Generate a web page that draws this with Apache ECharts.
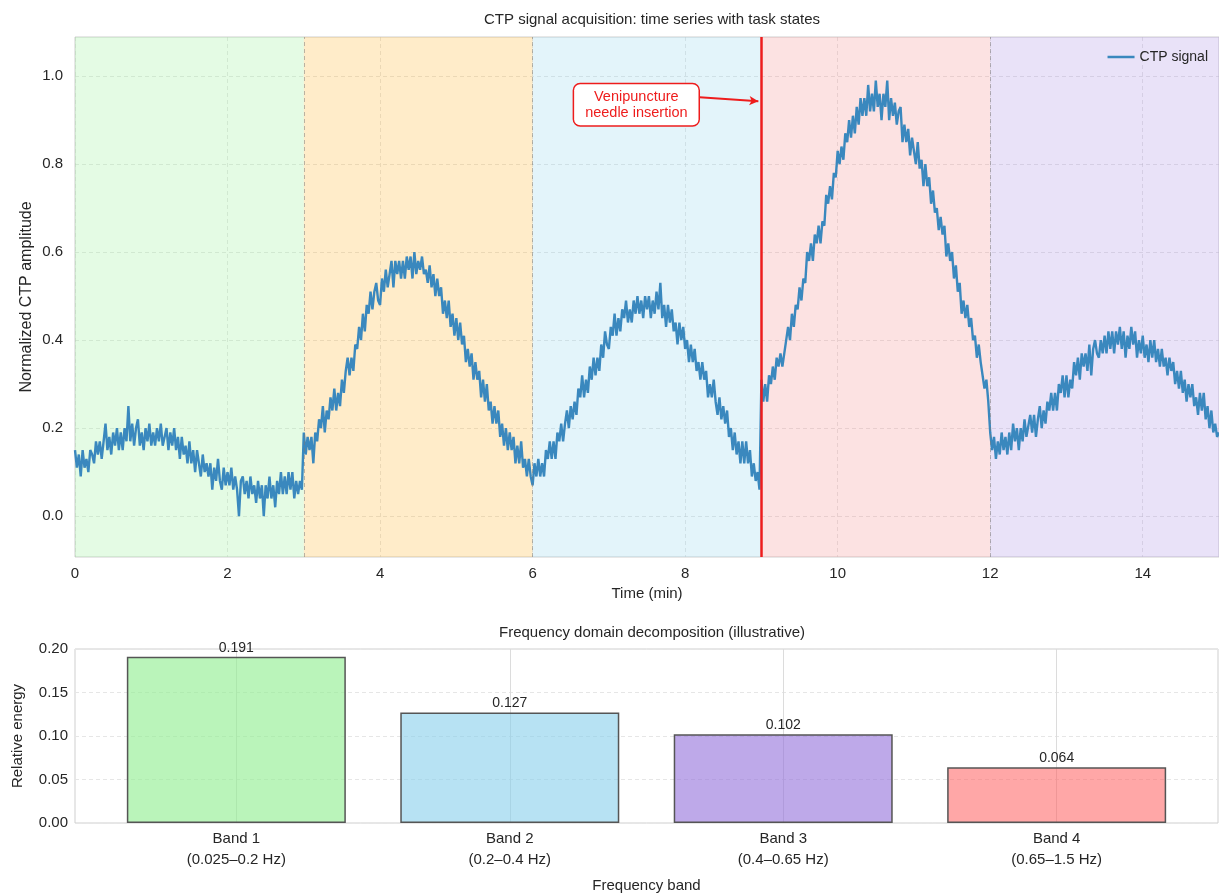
<!DOCTYPE html>
<html>
<head>
<meta charset="utf-8">
<script src="https://cdn.jsdelivr.net/npm/echarts@6/dist/echarts.min.js"></script>
<style>
html,body{margin:0;padding:0;background:#fff;}
#chart{width:1219px;height:896px;}
</style>
</head>
<body>
<div id="chart"></div>
<script>
// ---------------- DATA ----------------
const TIME_STEP_MIN = 0.025; // sampling step of the signal (min)
// CTP signal, one array per task state (0-3, 3-6, 6-9, 9-12, 12-15 min)
const sigState1 = [
  0.15,0.11,0.14,0.09,0.15,0.11,0.13,0.10,0.15,0.14,
  0.12,0.17,0.14,0.17,0.13,0.17,0.21,0.15,0.18,0.14,
  0.19,0.16,0.20,0.15,0.19,0.15,0.20,0.17,0.25,0.17,
  0.21,0.16,0.20,0.22,0.16,0.19,0.15,0.20,0.17,0.21,
  0.16,0.19,0.16,0.20,0.17,0.21,0.16,0.18,0.20,0.15,
  0.19,0.16,0.20,0.15,0.18,0.13,0.18,0.14,0.16,0.12,
  0.17,0.12,0.15,0.10,0.15,0.12,0.09,0.14,0.10,0.12,
  0.09,0.12,0.06,0.11,0.08,0.13,0.08,0.06,0.11,0.07,
  0.10,0.07,0.11,0.06,0.09,0.06,0.00,0.08,0.09,0.05,
  0.08,0.04,0.09,0.05,0.07,0.03,0.08,0.04,0.07,0.00,
  0.07,0.04,0.09,0.04,0.07,0.02,0.08,0.05,0.10,0.05,
  0.09,0.05,0.10,0.06,0.10,0.04,0.08,0.05,0.08,0.06];
const sigState2 = [
  0.19,0.14,0.18,0.15,0.18,0.12,0.19,0.17,0.22,0.20,
  0.25,0.19,0.24,0.22,0.27,0.24,0.29,0.24,0.28,0.25,
  0.31,0.28,0.33,0.36,0.32,0.36,0.33,0.39,0.38,0.43,
  0.40,0.46,0.42,0.48,0.46,0.51,0.47,0.51,0.53,0.49,
  0.48,0.54,0.51,0.56,0.52,0.55,0.58,0.52,0.58,0.55,
  0.58,0.54,0.58,0.54,0.59,0.56,0.59,0.54,0.60,0.55,
  0.58,0.56,0.59,0.55,0.56,0.53,0.57,0.52,0.55,0.50,
  0.54,0.50,0.52,0.46,0.49,0.45,0.49,0.43,0.46,0.41,
  0.45,0.40,0.44,0.39,0.41,0.35,0.38,0.34,0.37,0.31,
  0.35,0.31,0.33,0.27,0.31,0.26,0.30,0.24,0.26,0.21,
  0.25,0.21,0.24,0.18,0.21,0.16,0.20,0.15,0.19,0.15,
  0.18,0.12,0.16,0.12,0.17,0.11,0.13,0.09,0.13,0.09];
const sigState3 = [
  0.07,0.12,0.09,0.13,0.09,0.12,0.09,0.15,0.13,0.17,
  0.13,0.17,0.13,0.19,0.17,0.21,0.17,0.21,0.24,0.20,
  0.25,0.22,0.26,0.23,0.29,0.27,0.32,0.27,0.31,0.28,
  0.34,0.31,0.36,0.32,0.36,0.33,0.39,0.36,0.42,0.39,
  0.38,0.43,0.41,0.46,0.41,0.45,0.42,0.47,0.45,0.49,
  0.44,0.47,0.44,0.49,0.46,0.50,0.46,0.49,0.45,0.50,
  0.47,0.50,0.45,0.49,0.46,0.51,0.47,0.53,0.45,0.48,
  0.43,0.48,0.44,0.47,0.42,0.44,0.39,0.44,0.40,0.43,
  0.38,0.40,0.35,0.39,0.35,0.38,0.33,0.35,0.31,0.35,
  0.31,0.33,0.27,0.30,0.27,0.31,0.26,0.23,0.27,0.22,
  0.25,0.21,0.24,0.18,0.20,0.15,0.19,0.14,0.17,0.12,
  0.17,0.12,0.17,0.12,0.15,0.09,0.12,0.08,0.10,0.06];
const sigState4 = [
  0.31,0.26,0.30,0.26,0.32,0.30,0.34,0.31,0.36,0.34,
  0.37,0.34,0.37,0.37,0.43,0.40,0.46,0.43,0.48,0.47,
  0.52,0.49,0.54,0.53,0.60,0.58,0.62,0.58,0.64,0.62,
  0.66,0.62,0.67,0.66,0.73,0.71,0.75,0.72,0.78,0.77,
  0.83,0.80,0.84,0.81,0.87,0.85,0.90,0.86,0.91,0.87,
  0.93,0.89,0.95,0.91,0.95,0.91,0.98,0.92,0.96,0.92,
  0.99,0.93,0.96,0.90,0.96,0.93,0.99,0.90,0.95,0.91,
  0.94,0.89,0.92,0.93,0.85,0.89,0.85,0.88,0.82,0.86,
  0.86,0.80,0.85,0.79,0.81,0.75,0.80,0.75,0.77,0.71,
  0.74,0.69,0.70,0.65,0.68,0.64,0.66,0.59,0.62,0.58,
  0.60,0.54,0.57,0.51,0.53,0.46,0.49,0.45,0.48,0.43,
  0.45,0.40,0.41,0.36,0.39,0.35,0.35,0.29,0.31,0.26];
const sigState5 = [
  0.19,0.15,0.18,0.13,0.17,0.14,0.19,0.15,0.18,0.14,
  0.19,0.15,0.21,0.17,0.20,0.15,0.20,0.17,0.22,0.18,
  0.18,0.23,0.19,0.23,0.18,0.22,0.25,0.20,0.24,0.21,
  0.26,0.24,0.28,0.24,0.28,0.24,0.30,0.28,0.32,0.27,
  0.32,0.27,0.31,0.29,0.35,0.32,0.36,0.31,0.37,0.34,
  0.37,0.33,0.39,0.32,0.38,0.40,0.37,0.36,0.40,0.37,
  0.41,0.37,0.42,0.38,0.42,0.37,0.42,0.39,0.43,0.38,
  0.42,0.36,0.41,0.38,0.43,0.39,0.42,0.36,0.40,0.37,
  0.41,0.36,0.39,0.35,0.40,0.36,0.40,0.35,0.38,0.34,
  0.38,0.34,0.36,0.32,0.36,0.33,0.35,0.30,0.33,0.29,
  0.33,0.28,0.31,0.26,0.30,0.27,0.30,0.25,0.27,0.23,
  0.28,0.24,0.28,0.22,0.25,0.20,0.24,0.19,0.21,0.18,
  0.19];
const stateBounds = [0, 3, 6, 9, 12, 15];        // task state edges (min)
const needleTime = 9;                             // venipuncture (min)
const timeTicks = [0, 2, 4, 6, 8, 10, 12, 14];
const ampTicks = [0.0, 0.2, 0.4, 0.6, 0.8, 1.0];

const bandNames = ['Band 1', 'Band 2', 'Band 3', 'Band 4'];
const bandRanges = ['(0.025\u20130.2 Hz)', '(0.2\u20130.4 Hz)', '(0.4\u20130.65 Hz)', '(0.65\u20131.5 Hz)'];
const bandEnergy = [0.191, 0.127, 0.102, 0.064];
const energyTicks = [0.00, 0.05, 0.10, 0.15, 0.20];

// ---------------- STYLES ----------------
const stateColors = ['rgba(144,238,144,0.24)', 'rgba(255,165,0,0.21)', 'rgba(135,206,235,0.23)',
                     'rgba(240,128,128,0.23)', 'rgba(147,112,219,0.2)'];
const bandColors = ['rgba(144,238,144,0.62)', 'rgba(135,206,235,0.6)', 'rgba(147,112,219,0.6)', 'rgba(255,95,95,0.55)'];
const FONT = '"Liberation Sans", Arial, sans-serif';
const TXT = '#262626';

const signal = [].concat(sigState1, sigState2, sigState3, sigState4, sigState5)
  .map((v, i) => [+(i * TIME_STEP_MIN).toFixed(3), v]);

const areas = [];
for (let i = 0; i < stateBounds.length - 1; i++) {
  areas.push([{ xAxis: stateBounds[i], itemStyle: { color: stateColors[i] } }, { xAxis: stateBounds[i + 1] }]);
}
const vlines = stateBounds.slice(1, -1).filter(b => b !== needleTime).map(b => ({
  xAxis: b, lineStyle: { type: [4, 3], color: 'rgba(120,120,120,0.5)', width: 1 }
}));
vlines.push({ xAxis: needleTime, lineStyle: { type: 'solid', color: '#ee1c1c', width: 2.5 } });
vlines.push([
  { coord: [8.19, 0.952], symbol: 'none' },
  { coord: [8.96, 0.943], symbol: 'arrow', symbolSize: [7, 9], lineStyle: { color: '#ee1c1c', width: 2, type: 'solid', curveness: -0.08 } }
]);

const chart = echarts.init(document.getElementById('chart'), null, { renderer: 'canvas' });
chart.setOption({
  animation: false,
  backgroundColor: '#ffffff',
  textStyle: { fontFamily: FONT },
  title: [
    { text: 'CTP signal acquisition: time series with task states', left: 647, top: 7, textAlign: 'center',
      textStyle: { fontSize: 15, fontWeight: 'normal', color: TXT, fontFamily: FONT } },
    { text: 'Frequency domain decomposition (illustrative)', left: 647, top: 620, textAlign: 'center',
      textStyle: { fontSize: 15, fontWeight: 'normal', color: TXT, fontFamily: FONT } }
  ],
  legend: {
    data: [{ name: 'CTP signal', icon: 'rect' }], right: 6, top: 45, itemWidth: 27, itemHeight: 2.5,
    textStyle: { fontSize: 14, color: TXT, fontFamily: FONT }
  },
  grid: [
    { left: 75, top: 37, width: 1144, height: 520, show: true, borderColor: '#cfcfcf', borderWidth: 1, backgroundColor: 'transparent' },
    { left: 75, top: 649, width: 1143, height: 174, show: true, borderColor: '#cfcfcf', borderWidth: 1, backgroundColor: 'transparent' }
  ],
  xAxis: [
    { type: 'value', gridIndex: 0, min: 0, max: 15,
      axisLine: { show: false }, axisTick: { show: false, customValues: timeTicks },
      axisLabel: { customValues: timeTicks, fontSize: 15, color: TXT, margin: 9 },
      splitLine: { show: true, lineStyle: { color: 'rgba(200,200,200,0.45)', type: [4, 3], width: 1 } },
      name: 'Time (min)', nameLocation: 'middle', nameGap: 28, nameTextStyle: { fontSize: 15, color: TXT } },
    { type: 'value', gridIndex: 1, min: -0.59, max: 3.59,
      axisLine: { show: false }, axisTick: { show: false, customValues: [0, 1, 2, 3] },
      axisLabel: { customValues: [0, 1, 2, 3], fontSize: 15, color: TXT, margin: 5, lineHeight: 21,
        formatter: v => bandNames[Math.round(v)] + '\n' + bandRanges[Math.round(v)] },
      splitLine: { show: true, lineStyle: { color: '#dcdcdc', width: 1 } },
      name: 'Frequency band', nameLocation: 'middle', nameGap: 55, nameTextStyle: { fontSize: 15, color: TXT } }
  ],
  yAxis: [
    { type: 'value', gridIndex: 0, min: -0.093, max: 1.089,
      axisLine: { show: false }, axisTick: { show: false, customValues: ampTicks },
      axisLabel: { customValues: ampTicks, fontSize: 15, color: TXT, margin: 12, formatter: v => v.toFixed(1) },
      splitLine: { show: true, lineStyle: { color: 'rgba(200,200,200,0.45)', type: [4, 3], width: 1 } },
      name: 'Normalized CTP amplitude', nameLocation: 'middle', nameGap: 40, nameMoveOverlap: false,
      nameTextStyle: { fontSize: 16, color: TXT } },
    { type: 'value', gridIndex: 1, min: 0, max: 0.2,
      axisLine: { show: false }, axisTick: { show: false, customValues: energyTicks },
      axisLabel: { customValues: energyTicks, fontSize: 15, color: TXT, margin: 7, formatter: v => v.toFixed(2) },
      splitLine: { show: true, lineStyle: { color: '#e6e6e6', type: [4, 3], width: 1 } },
      name: 'Relative energy', nameLocation: 'middle', nameGap: 50, nameTextStyle: { fontSize: 15, color: TXT } }
  ],
  series: [
    {
      name: 'CTP signal', type: 'line', xAxisIndex: 0, yAxisIndex: 0,
      data: signal, symbol: 'none', showSymbol: false,
      lineStyle: { color: '#3a88be', width: 2.4 }, itemStyle: { color: '#3a88be' },
      z: 3,
      markArea: { silent: true, data: areas },
      markLine: { silent: true, symbol: ['none', 'none'], label: { show: false }, data: vlines, z: 5 },
      markPoint: {
        silent: true,
        data: [{ coord: [7.36, 0.935], symbol: 'rect', symbolSize: 1,
          itemStyle: { color: 'rgba(0,0,0,0)' },
          label: { show: true, position: 'inside', formatter: 'Venipuncture\nneedle insertion',
            color: '#ee1c1c', fontSize: 14.5, lineHeight: 16, align: 'center', verticalAlign: 'middle',
            backgroundColor: '#ffffff', borderColor: '#ee1c1c', borderWidth: 1.5, borderRadius: 6,
            padding: [5, 11, 4, 11], fontFamily: FONT } }]
      }
    },
    {
      name: 'Relative energy', type: 'bar', xAxisIndex: 1, yAxisIndex: 1,
      barWidth: 219,
      data: bandEnergy.map((v, i) => ({ value: [i, v], itemStyle: { color: bandColors[i] } })),
      itemStyle: { borderColor: '#555555', borderWidth: 1.5 },
      label: { show: true, position: 'top', distance: 2, fontSize: 14, color: TXT,
        formatter: p => p.value[1].toFixed(3) }
    }
  ]
});
</script>
</body>
</html>
